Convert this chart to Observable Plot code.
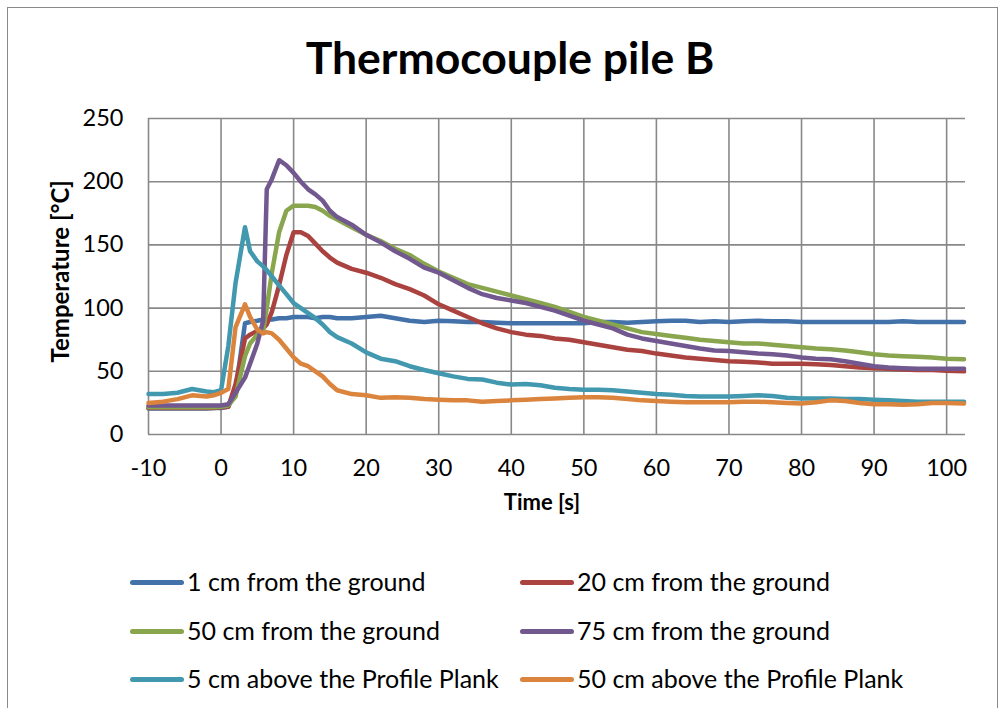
<!DOCTYPE html>
<html><head><meta charset="utf-8">
<script src="https://cdn.jsdelivr.net/npm/d3@7"></script>
<script src="https://cdn.jsdelivr.net/npm/@observablehq/plot@0.6"></script>
<style>
body{margin:0;background:#fff;font-family:Lato,"Open Sans",sans-serif;}
#chart{position:relative;width:1002px;height:708px;overflow:hidden;background:#fff;}
#frame{position:absolute;left:7px;top:7px;width:991px;height:740px;border:1.5px solid #8a8a8a;box-sizing:border-box;}
#title{position:absolute;left:9px;width:1002px;top:30px;text-align:center;font-weight:bold;font-size:44.5px;color:#000;}
#plot{position:absolute;left:0;top:100px;}
.item{position:absolute;font-size:25px;color:#000;white-space:nowrap;line-height:28px;}
.sw{display:inline-block;width:54px;height:5px;border-radius:3px;vertical-align:middle;margin-right:3px;position:relative;top:-2px;}
</style></head>
<body>
<div id="chart">
<div id="frame"></div>
<div id="title">Thermocouple pile B</div>
<div id="plot"></div>
<div id="legend"></div>
</div>
<script>
const seriesNames = ["1 cm from the ground","20 cm from the ground","50 cm from the ground","75 cm from the ground","5 cm above the Profile Plank","50 cm above the Profile Plank"];
const seriesColors = ["#4372AA","#AA423F","#89A54E","#71588F","#4198AF","#DB843D"];
const xTicks = [-10,0,10,20,30,40,50,60,70,80,90,100];
const yTicks = [0,50,100,150,200,250];

const time = [-10,-8,-6,-4,-2,-1,0,
  1,2,3.3,4,5,5.8,6.3,7,8,9,10,11,12,13,14,15,16,
  18,20,22,24,26,28,30,32,34,36,38,40,42,44,46,48,50,52,54,56,58,60,62,64,66,68,70,72,74,76,78,80,82,84,86,88,90,92,94,96,98,100,
  102.4];

const ground1 = [20.5,20.5,20.5,20.5,20.5,21,21,
  22,35,88,89,90,91,91,91,92,92,93,93,93,92,93,93,92,
  92,93,94,92,90,89,90,89.5,89,89,88.5,88,88,88,88,88,88,89,89,88.5,89,89.5,90,90,89,89.5,89,89.5,90,89.5,89.5,89,89,89,89,89,89,89,89.5,89,89,89,
  89];
const ground20 = [21,21,21,21,21,21,21.5,
  22,40,76,79,82,84,87,97,118,142,160,160,157,151,145,140,136,
  131,128,124,119,115,110,103,98,93,88,84,81,79,78,76,75,73,71,69,67,66,64,62.5,61,60,59,58,57.5,57,56,56,56,55.5,55,54,53,52.5,52,51.5,51,51,50.5,
  50];
const ground50 = [21.5,21.5,21.5,21.5,21.5,21.5,22,
  23,30,62,72,79,82,100,128,160,177,181,181,181,180,177,173,170,
  164,158,153,147,142,135,129,124,119,116,113,110,107,104,101,97,93,90,87,84,81,79.5,78,76.5,75,74,73,72,72,71,70,69,68,67.5,66.5,65,63.5,62.5,62,61.5,61,60,
  59.5];
const ground75 = [23,23,23,23,23,23,23,
  24,33,45,56,72,90,194,202,217,213,207,200,194,190,185,177,172,
  166,158,152,145,139,132,128,122,116,111,108,106,104,101,98,94,90,87,84,79,76,74,72,70,68,66.5,66,65,64,63.5,62.5,61,60,59.5,58,56,54,53,52.5,52,52,52,
  52];
const plank5 = [32,32,33,36,34,33.5,35,
  70,120,164,145,137,133,130,125,118,111,104,100,96,92,87,81,77,
  72,65,60,58,54,51,48.5,46,44,43.5,41,39.5,40,39,37,36,35.5,35.5,35,34,33,32,31.5,30.5,30,30,30,30.5,31,30.5,29,28.5,28.5,28.5,28,28,27.5,27,26.5,26,26,26,
  26];
const plank50 = [25,26,28,31,30,31,33,
  36,85,103,93,83,80,81,80,75,68,61,56,54,50,46,40,35,
  32,31,29,29.5,29,28,27.5,27,27,26,26.5,27,27.5,28,28.5,29,29.5,29.5,29,28,27,26.5,26,25.5,25.5,25.5,25.5,26,26,25.5,25,24.5,25.5,27,26.5,25,24,24,23.5,24,25,25,
  24.5];

const allSeries = [ground1, ground20, ground50, ground75, plank5, plank50];
const rows = [];
allSeries.forEach((vals, si) => vals.forEach((v, i) => rows.push({series: seriesNames[si], t: time[i], T: v})));

const plot = Plot.plot({
  width: 1002, height: 430,
  marginLeft: 148, marginRight: 37, marginTop: 18, marginBottom: 96,
  style: {fontFamily: "Lato, 'Open Sans', sans-serif", background: "transparent", overflow: "visible"},
  x: {domain: [-10, 102.6]},
  y: {domain: [0, 250]},
  color: {domain: seriesNames, range: seriesColors},
  marks: [
    Plot.gridX(xTicks, {stroke: "#888", strokeOpacity: 1, strokeWidth: 1.6}),
    Plot.gridY(yTicks, {stroke: "#888", strokeOpacity: 1, strokeWidth: 1.6}),
    Plot.axisX(xTicks, {tickSize: 0, tickPadding: 25, fontSize: 23.5, label: null, tickFormat: d => String(d), fill: "#000"}),
    Plot.axisY(yTicks, {tickSize: 0, tickPadding: 25, fontSize: 23.5, label: null, fill: "#000"}),
    Plot.line(rows, {x: "t", y: "T", z: "series", stroke: "series", strokeWidth: 4.5, strokeLinejoin: "round", strokeLinecap: "round"}),
    Plot.text(["Time [s]"], {frameAnchor: "bottom", dx: -15, dy: 75, fontSize: 22, fontWeight: "bold", fill: "#000"}),
    Plot.text(["Temperature [°C]"], {frameAnchor: "left", rotate: -90, dx: -87, dy: 86, fontSize: 24, fontWeight: "bold", fill: "#000"})
  ]
});
document.getElementById("plot").appendChild(plot);

const legend = document.getElementById("legend");
const legendPos = [[130,567],[520,567],[130,616],[520,616],[130,664],[520,664]];
seriesNames.forEach((name, i) => {
  const d = document.createElement("div");
  d.className = "item";
  d.style.left = legendPos[i][0] + "px";
  d.style.top = legendPos[i][1] + "px";
  d.innerHTML = `<span class="sw" style="background:${seriesColors[i]}"></span>${name}`;
  legend.appendChild(d);
});
</script>
</body></html>
